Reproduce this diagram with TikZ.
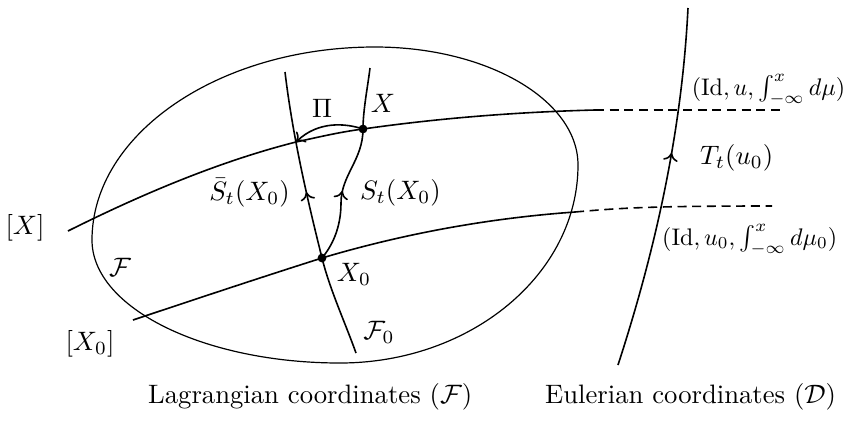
\documentclass[tikz,border=0pt]{standalone}
\usetikzlibrary{arrows.meta,decorations.markings}
\begin{document}
\begin{tikzpicture}[x=0.375pt,y=-0.375pt,
  curve/.style={line width=0.6pt},
  blob/.style={line width=0.45pt},
  dashline/.style={line width=0.6pt,dash pattern=on 3.4pt off 2.1pt},
  midarrow/.style={postaction={decorate},decoration={markings,mark=at position #1 with {\arrow{To[length=3pt,width=5.5pt]}}}},
  dotmark/.style={circle,fill,inner sep=0pt,minimum size=3.3pt},
  lbl/.style={inner sep=1pt},
  intlbl/.style={inner sep=1pt,anchor=east,scale=0.9}]
\useasboundingbox (0,0) rectangle (850,422);
% key points
\coordinate (X) at (363,129);
\coordinate (X0) at (322,258);
\coordinate (P) at (296,142);
\coordinate (U) at (595,110);
\coordinate (Ue) at (782,110);
\coordinate (L) at (575,212);
\coordinate (Le) at (772,206);
\coordinate (XL) at (68,231);
\coordinate (X0L) at (133,320);
\coordinate (Fb) at (356,353);
\coordinate (Ft) at (285,72);
\coordinate (M1) at (341,203);
\coordinate (St) at (370,68);
\coordinate (Eb) at (618,365);
\coordinate (Et) at (688,8);
% domain F
\draw[blob] (92,240) .. controls (92,134) and (219,47) .. (375,47)
  .. controls (487,47) and (578,100) .. (578,165)
  .. controls (578,274) and (471,363) .. (340,363)
  .. controls (204,363) and (92,308) .. cycle;
% upper curve [X]
\draw[curve] (XL) .. controls (144,193) and (221,161) .. (P)
  .. controls (319,137) and (340,132) .. (X)
  .. controls (440,118) and (518,112) .. (U);
\draw[dashline] (U) -- (Ue);
% lower curve [X0]
\draw[curve] (X0L) .. controls (196,299) and (259,278) .. (X0)
  .. controls (406,233) and (491,218) .. (L);
\draw[dashline] (L) .. controls (620,208) and (650,206) .. (Le);
% F0 curve with bar S_t
\draw[curve,midarrow=0.58] (Fb) .. controls (344.5,321) and (330,290) .. (X0)
  .. controls (306.5,196) and (292.4,134) .. (Ft);
% S_t curve
\draw[curve,midarrow=0.36] (X0) .. controls (332,246) and (341,228) .. (M1)
  .. controls (341,175) and (363,160) .. (X)
  .. controls (363,110) and (368,85) .. (St);
% Pi projection
\draw[curve,-{To[length=3pt,width=5.5pt]}] (X) .. controls (345,123) and (318,121) .. (P);
% Eulerian curve
\draw[curve,midarrow=0.6] (Eb) .. controls (657,245) and (682,128) .. (Et);
% dots
\node[dotmark] (dX) at (X) {};
\node[dotmark] (dX0) at (X0) {};
% labels
\node[lbl] (lX) at (25,228) {$[X]$};
\node[lbl] (lX0) at (90,344) {$[X_0]$};
\node[lbl] (lF) at (120,267) {$\mathcal{F}$};
\node[lbl] (lF0) at (379,332) {$\mathcal{F}_0$};
\node[lbl] (lx0) at (354,274) {$X_0$};
\node[lbl] (lx) at (383,103) {$X$};
\node[lbl] (lPi) at (322,108) {$\Pi$};
\node[lbl,anchor=west] (lS) at (357,193) {$S_t(X_0)$};
\node[lbl,anchor=east] (lSb) at (293,193) {$\bar{S}_t(X_0)$};
\node[lbl,anchor=west] (lT) at (697,158) {$T_t(u_0)$};
\node[intlbl] (lU) at (848,90) {$(\mathrm{Id},u,\int_{-\infty}^{x}d\mu)$};
\node[intlbl] (lU0) at (840,240) {$(\mathrm{Id},u_0,\int_{-\infty}^{x}d\mu_0)$};
\node[lbl,anchor=base west] (lag) at (145,403) {Lagrangian coordinates ($\mathcal{F}$)};
\node[lbl,anchor=base west] (eul) at (542,403) {Eulerian coordinates ($\mathcal{D}$)};
\end{tikzpicture}
\end{document}
